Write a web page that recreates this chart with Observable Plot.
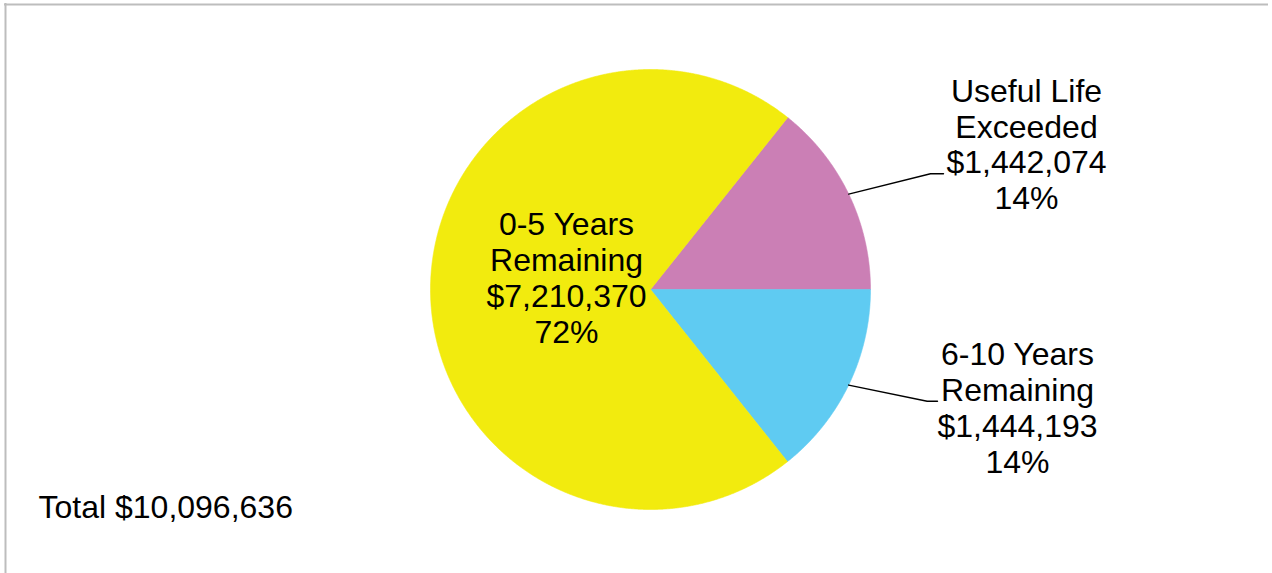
<!DOCTYPE html>
<html><head><meta charset="utf-8">
<script src="https://cdn.jsdelivr.net/npm/d3@7"></script>
<script src="https://cdn.jsdelivr.net/npm/@observablehq/plot@0.6"></script>
<style>html,body{margin:0;padding:0;background:#fff}</style>
</head><body><div id="chart"></div>
<script>
// ---- data ----
const categories = ["Useful Life\nExceeded", "6-10 Years\nRemaining", "0-5 Years\nRemaining"];
const values = [1442074, 1444193, 7210370];
const percents = ["14%", "14%", "72%"];
const colors = ["#CB7FB5", "#5FCBF2", "#F2EB0E"];
const totalLabel = "Total $10,096,636";

// ---- layout (pixels) ----
const W = 1272, H = 573;
const R = 220, CX = 650, CY = 289;
const ux = px => (px - CX) / R;
const uy = py => (CY - py) / R;

const total = d3.sum(values);
const firstAngle = values[0] / total * 2 * Math.PI;
const start = Math.PI / 2 - firstAngle;
const arcs = d3.pie().sort(null).startAngle(start).endAngle(start + 2 * Math.PI)(values);

const slicePts = [];
arcs.forEach((a, i) => {
  const n = Math.max(8, Math.ceil((a.endAngle - a.startAngle) / 0.004));
  slicePts.push({k: i, x: 0, y: 0});
  for (let j = 0; j <= n; j++) {
    const t = a.startAngle + (a.endAngle - a.startAngle) * j / n;
    slicePts.push({k: i, x: Math.sin(t), y: Math.cos(t)});
  }
  slicePts.push({k: i, x: 0, y: 0});
});

const fmt = d3.format("$,");
// label anchor = baseline of the last line
const labelPos = [[1026, 208.5], [1017, 472], [566, 342]];
const labels = values.map((v, i) => ({
  x: ux(labelPos[i][0]), y: uy(labelPos[i][1]),
  text: categories[i] + "\n" + fmt(v) + "\n" + percents[i]
}));

// leader lines for the two small slices (from slice mid-angle on rim)
const elbows = [[[930, 173.3], [943, 173.3]], [[926.7, 400.7], [937, 400.7]]];
const leaders = [];
[0, 1].forEach(i => {
  const a = arcs[i];
  const m = (a.startAngle + a.endAngle) / 2;
  leaders.push({k: i, x: Math.sin(m), y: Math.cos(m)});
  elbows[i].forEach(p => leaders.push({k: i, x: ux(p[0]), y: uy(p[1])}));
});

const FS = 32;
const chart = Plot.plot({
  width: W, height: H, margin: 0,
  x: {domain: [ux(0), ux(W)], axis: null},
  y: {domain: [uy(H), uy(0)], axis: null},
  style: {background: "#fff", fontFamily: "'Liberation Sans', Arial, sans-serif"},
  marks: [
    Plot.ruleY([uy(4)], {x1: ux(4), x2: ux(1268), stroke: "#bdbdbd", strokeWidth: 2}),
    Plot.ruleX([ux(5)], {y1: uy(3), y2: uy(H), stroke: "#bdbdbd", strokeWidth: 2}),
    Plot.line(slicePts, {x: "x", y: "y", z: "k", curve: "linear",
      fill: d => colors[d.k], stroke: d => colors[d.k], strokeWidth: 0.6}),
    Plot.line(leaders, {x: "x", y: "y", z: "k", stroke: "#000", strokeWidth: 1.4}),
    Plot.text(labels, {x: "x", y: "y", text: "text", fontSize: FS, lineHeight: 35.7 / FS,
      lineAnchor: "bottom", textAnchor: "middle", fill: "#000"}),
    Plot.text([totalLabel], {x: ux(38), y: uy(517), text: d => d, fontSize: FS,
      lineAnchor: "bottom", textAnchor: "start", fill: "#000"})
  ]
});
document.getElementById("chart").appendChild(chart);
</script>
</body></html>
